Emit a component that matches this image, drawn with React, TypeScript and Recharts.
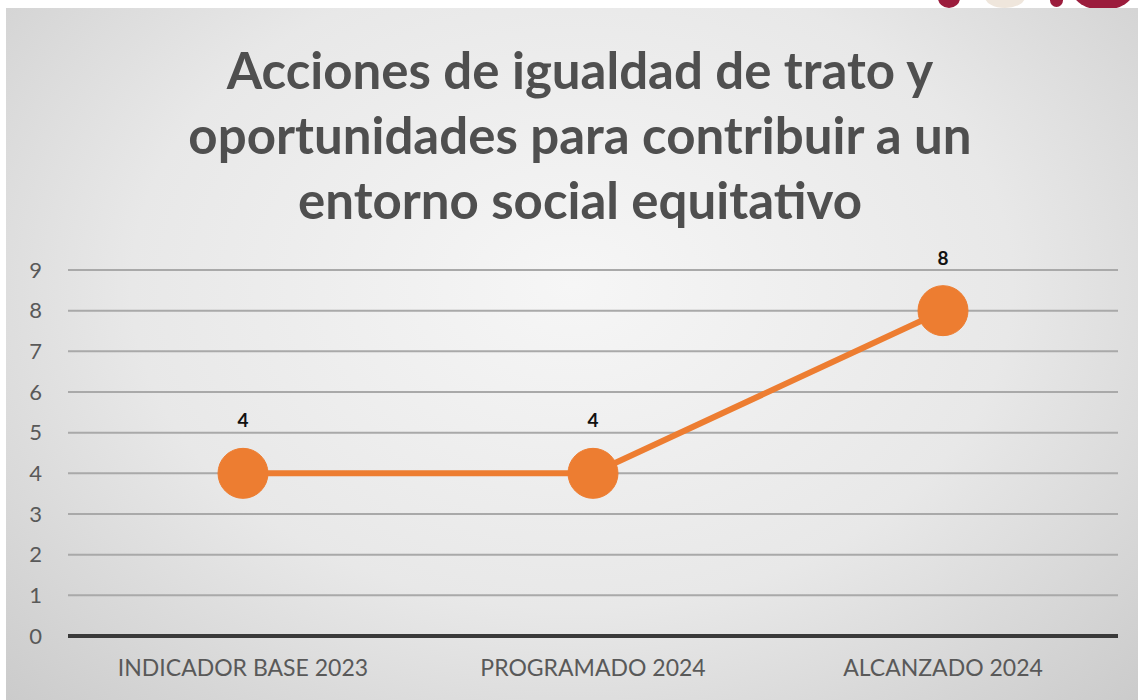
import React from 'react';
import { LineChart, Line, XAxis, YAxis, CartesianGrid, LabelList } from 'recharts';

// datos del gráfico
const categorias = ['INDICADOR BASE 2023', 'PROGRAMADO 2024', 'ALCANZADO 2024'];
const acciones = [4, 4, 8];
const ticksY = [0, 1, 2, 3, 4, 5, 6, 7, 8, 9];

const titulo = [
  'Acciones de igualdad de trato y',
  'oportunidades para contribuir a un',
  'entorno social equitativo',
];

const data = categorias.map((c, i) => ({ name: c, value: acciones[i] }));

const FONT = 'Lato, "Open Sans", sans-serif';
const ORANGE = '#ED7D31';

export default function App() {
  return (
    <div
      style={{
        position: 'absolute',
        left: 0,
        top: 0,
        width: 1138,
        height: 700,
        background: '#fff',
        overflow: 'hidden',
      }}
    >
      {/* fragmento del logo arriba a la derecha */}
      <div style={{ position: 'absolute', left: 938, top: -12, width: 22, height: 20, borderRadius: '50%', background: '#9b1c3c' }} />
      <div style={{ position: 'absolute', left: 985, top: -14, width: 40, height: 22, borderRadius: '50%', background: '#efe6dc' }} />
      <div style={{ position: 'absolute', left: 1050, top: -6, width: 13, height: 13, borderRadius: '50%', background: '#9b1c3c' }} />
      <div style={{ position: 'absolute', left: 1072, top: -30, width: 62, height: 40, borderRadius: '50%', background: '#9b1c3c' }} />

      <div
        style={{
          position: 'absolute',
          left: 6,
          top: 8,
          width: 1132,
          height: 692,
          background: 'radial-gradient(ellipse at 50% 40%, #f6f6f6 0%, #e8e8e8 55%, #cbcbcb 100%)',
        }}
      >
        <div
          style={{
            position: 'absolute',
            left: 0,
            top: 29,
            width: 1148,
            textAlign: 'center',
            fontFamily: FONT,
            fontWeight: 700,
            fontSize: 51,
            lineHeight: '65px',
            color: '#4f4f4f',
          }}
        >
          {titulo.map((t) => (
            <div key={t}>{t}</div>
          ))}
        </div>

        <div style={{ position: 'absolute', left: 0, top: 0 }}>
          <LineChart
            width={1132}
            height={692}
            data={data}
            margin={{ top: 262, right: 20, bottom: 24, left: 0 }}
          >
            <CartesianGrid vertical={false} stroke="#a9a9a9" strokeWidth={2} />
            <XAxis
              dataKey="name"
              padding={{ left: 175, right: 175 }}
              axisLine={{ stroke: '#3a3a3a', strokeWidth: 4 }}
              tickLine={false}
              tickSize={0}
              tickMargin={24}
              height={40}
              tick={{ fill: '#595959', fontSize: 23, fontFamily: FONT }}
            />
            <YAxis
              domain={[0, 9]}
              ticks={ticksY}
              interval={0}
              width={62}
              axisLine={false}
              tickLine={false}
              tickSize={0}
              tickMargin={26}
              tick={{ fill: '#595959', fontSize: 22, fontFamily: FONT }}
            />
            <Line
              type="linear"
              dataKey="value"
              stroke={ORANGE}
              strokeWidth={6}
              dot={{ r: 25, fill: ORANGE, stroke: ORANGE, strokeWidth: 1 }}
              activeDot={false}
              isAnimationActive={false}
            >
              <LabelList
                dataKey="value"
                position="top"
                offset={46}
                fill="#111"
                fontSize={19}
                fontWeight={700}
                fontFamily={FONT}
              />
            </Line>
          </LineChart>
        </div>
      </div>
    </div>
  );
}
